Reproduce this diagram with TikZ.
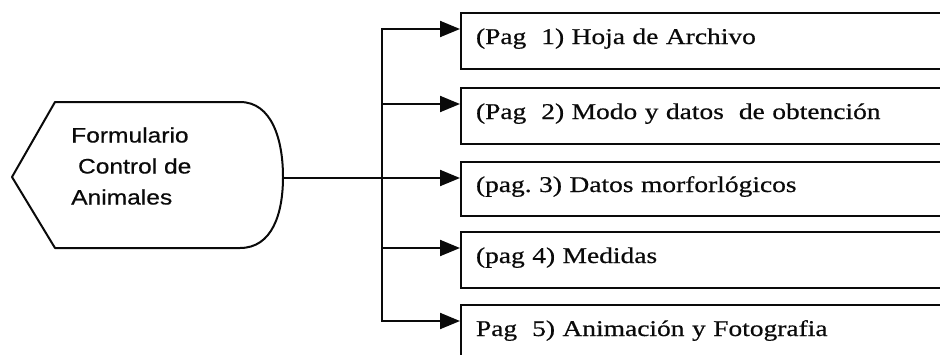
\documentclass[tikz,border=0pt]{standalone}
\usepackage{fontspec}
\usetikzlibrary{arrows.meta,calc}
\newfontfamily\boxfont[FakeStretch=1.22,FakeBold=0.6]{Liberation Serif}
\newfontfamily\formfont[FakeStretch=1.17,FakeBold=0.5]{Liberation Sans}
\definecolor{ink}{RGB}{10,10,10}
\tikzset{
  outline/.style={draw=ink,line width=2pt,line join=round},
  formtext/.style={anchor=west,inner sep=0pt,align=left,text=ink,font=\formfont\fontsize{21}{31}\selectfont},
  page/.style={draw=ink,line width=2pt,anchor=north west,minimum height=56pt,text width=490pt,inner xsep=15pt,text height=15pt,text depth=9pt,align=left,text=ink,font=\boxfont\fontsize{22.5}{26}\selectfont},
  wire/.style={draw=ink,line width=2pt,line cap=rect},
  arr/.style={-{Triangle[length=20pt,width=16pt]},draw=ink,fill=ink,line width=2pt}
}
\begin{document}
\begin{tikzpicture}[x=1pt,y=-1pt]
\useasboundingbox (0,0) rectangle (940,354);
% display shape
\draw[outline] (12,177) -- (55,102) -- (240,102)
  .. controls (272,102) and (283,140) .. (283,177)
  .. controls (283,214) and (272,248) .. (240,248)
  -- (55,248) -- cycle;
\coordinate (hexr) at (283,178);
\node[formtext] (form) at (71,166) {Formulario\\\ Control de\\Animales};
% pages
\node[page] (p1) at (460,12) {(Pag\ \ 1) Hoja de Archivo};
\node[page] (p2) at (460,87) {(Pag\ \ 2) Modo y datos\ \ de obtención};
\node[page,minimum height=54pt] (p3) at (460,161) {(pag.\ 3) Datos morforlógicos};
\node[page] (p4) at (460,231) {(pag 4) Medidas};
\node[page] (p5) at (460,304) {Pag\ \ 5) Animación y Fotografia};
\foreach \i in {1,...,5}
  \coordinate (t\i) at ([yshift=-17pt]p\i.north west);
% bus
\coordinate (busx) at (382,0);
\draw[wire] (t1 -| busx) -- (t5 -| busx);
\foreach \i in {1,2,4,5}
  \draw[arr] (t\i -| busx) -- (t\i);
\draw[arr] (hexr) -- (t3);
\end{tikzpicture}
\end{document}
